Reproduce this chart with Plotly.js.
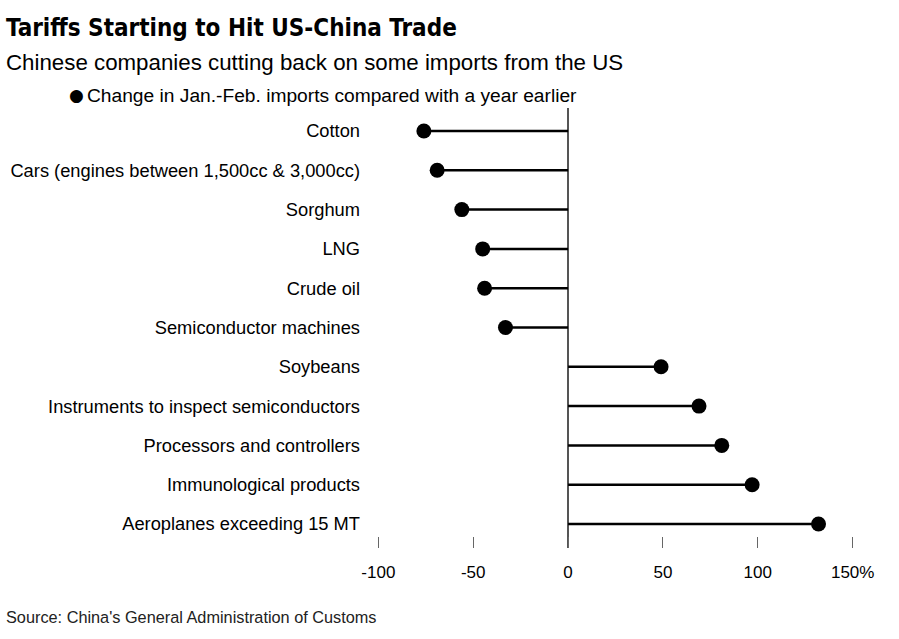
<!DOCTYPE html>
<html>
<head>
<meta charset="utf-8">
<script src="https://cdn.plot.ly/plotly-3.0.1.min.js"></script>
<style>html,body{margin:0;padding:0;background:#fff;}#chart{width:899px;height:639px;}</style>
</head>
<body>
<div id="chart"></div>
<script>
const categories = [
  "Cotton",
  "Cars (engines between 1,500cc & 3,000cc)",
  "Sorghum",
  "LNG",
  "Crude oil",
  "Semiconductor machines",
  "Soybeans",
  "Instruments to inspect semiconductors",
  "Processors and controllers",
  "Immunological products",
  "Aeroplanes exceeding 15 MT"
];
const changes = [-76, -69, -56, -45, -44, -33, 49, 69, 81, 97, 132];
const tickValues = [-100, -50, 0, 50, 100, 150];
const tickLabels = ["-100", "-50", "0", "50", "100", "150%"];
const seriesName = "Change in Jan.-Feb. imports compared with a year earlier";

const W = 899, H = 639;
const L = 370, R = 19, T = 108, B = 91;
const pw = W - L - R, ph = H - T - B;
const px = v => (v - L) / pw;
const py = v => (H - B - v) / ph;

// stems from zero to each value
const stemX = [], stemY = [];
categories.forEach((c, i) => { stemX.push(0, changes[i], null); stemY.push(c, c, null); });

const font = "'Liberation Sans', Arial, Helvetica, sans-serif";

const data = [
  { type: 'scatter', mode: 'lines', x: stemX, y: stemY, line: {color: '#000', width: 2.5},
    hoverinfo: 'skip', showlegend: false, cliponaxis: false },
  { type: 'scatter', mode: 'markers', x: changes, y: categories, name: seriesName,
    marker: {color: '#000', size: 15}, showlegend: false, cliponaxis: false }
];

const layout = {
  width: W, height: H,
  margin: {l: L, r: R, t: T, b: B, pad: 0},
  paper_bgcolor: '#fff', plot_bgcolor: '#fff',
  font: {family: font, color: '#000', size: 16},
  showlegend: false,
  xaxis: {
    range: [-104.4, 164.4], tickvals: tickValues, ticktext: tickLabels,
    showgrid: false, zeroline: true, zerolinecolor: '#555', zerolinewidth: 2,
    ticks: 'inside', ticklen: 11, tickcolor: '#666', tickwidth: 1,
    tickfont: {size: 17, color: '#000'}, ticklabelstandoff: 12,
    showline: false, fixedrange: true
  },
  yaxis: {
    type: 'category', categoryorder: 'array', categoryarray: categories,
    range: [10.61, -0.585], showgrid: false, zeroline: false, showline: false,
    ticks: '', tickfont: {size: 18.3, color: '#000'}, ticklabelstandoff: 9, fixedrange: true
  },
  annotations: [
    {xref: 'paper', yref: 'paper', x: px(4), y: py(28), xanchor: 'left', yanchor: 'middle', showarrow: false,
     text: '<b>Tariffs Starting to Hit US-China Trade</b>',
     font: {family: "'Liberation Sans Narrow', 'DejaVu Sans Condensed', Arial, sans-serif", size: 24, color: '#000'}},
    {xref: 'paper', yref: 'paper', x: px(4), y: py(62), xanchor: 'left', yanchor: 'middle', showarrow: false,
     text: 'Chinese companies cutting back on some imports from the US',
     font: {family: font, size: 22.3, color: '#000'}},
    {xref: 'paper', yref: 'paper', x: px(76), y: py(95), xanchor: 'center', yanchor: 'middle', showarrow: false,
     text: '●', font: {family: "'DejaVu Sans', sans-serif", size: 17, color: '#000'}},
    {xref: 'paper', yref: 'paper', x: px(85), y: py(95), xanchor: 'left', yanchor: 'middle', showarrow: false,
     text: seriesName, font: {family: font, size: 19.2, color: '#000'}},
    {xref: 'paper', yref: 'paper', x: px(4), y: py(617), xanchor: 'left', yanchor: 'middle', showarrow: false,
     text: "Source: China's General Administration of Customs",
     font: {family: font, size: 16.3, color: '#222'}}
  ]
};

Plotly.newPlot('chart', data, layout, {displayModeBar: false, staticPlot: true});
</script>
</body>
</html>
